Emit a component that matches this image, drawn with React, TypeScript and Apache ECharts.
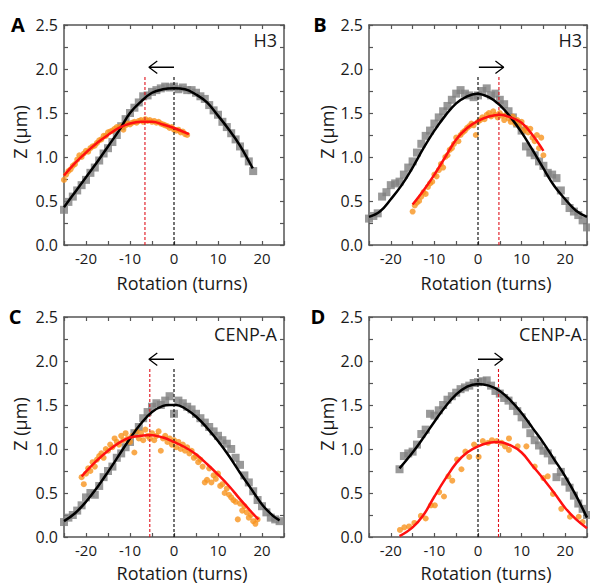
import React, { useEffect, useRef } from "react";
import * as echarts from "echarts";

const FONT = "'Open Sans', 'DejaVu Sans', sans-serif";
const X_MIN = -25;
const X_MAX = 25;
const X_STEP = 5;
const Y_MIN = 0;
const Y_MAX = 2.5;
const Y_STEP = 0.25;

const xTitle = "Rotation (turns)";
const yTitle = "Z (\u03bcm)";
const panelLetters = ["A", "B", "C", "D"];
const panelLabels = ["H3", "H3", "CENP-A", "CENP-A"];

// ---------- Panel A ----------
const aGrey = [
  [-25, 0.4], [-24, 0.49], [-23, 0.55], [-22, 0.62], [-21, 0.68], [-20, 0.74], [-19, 0.82], [-18, 0.88],
  [-17, 0.96], [-16, 1.04], [-15, 1.1], [-14, 1.17], [-13, 1.25], [-12, 1.35], [-11, 1.43], [-10, 1.5],
  [-9, 1.56], [-8, 1.62], [-7, 1.69], [-6, 1.7], [-5, 1.74], [-4, 1.76], [-3, 1.78], [-2, 1.8], [-1, 1.79],
  [0, 1.8], [1, 1.77], [2, 1.79], [3, 1.76], [4, 1.76], [5, 1.73], [6, 1.69], [7, 1.66], [8, 1.59],
  [9, 1.53], [10, 1.48], [11, 1.4], [12, 1.34], [13, 1.27], [14, 1.2], [15, 1.12], [16, 1.04], [17, 0.95], [18, 0.84],
];
const aGreyFit = [
  [-25, 0.43], [-22.5, 0.6], [-20, 0.77], [-17.5, 0.94], [-15, 1.12], [-12.5, 1.3], [-10, 1.5], [-7.5, 1.63],
  [-5, 1.73], [-2.5, 1.77], [0, 1.78], [2.5, 1.77], [5, 1.71], [7.5, 1.62], [10, 1.47], [12.5, 1.31], [15, 1.13], [17.9, 0.87],
];
const aOrange = [
  [-25, 0.74], [-24.5, 0.8], [-24, 0.84], [-23.5, 0.86], [-23, 0.9], [-22.5, 0.92], [-22, 0.97], [-21.5, 1.02],
  [-21, 1.0], [-20.5, 1.04], [-20, 1.07], [-19.5, 1.06], [-19, 1.1], [-18.5, 1.12], [-18, 1.13], [-17.5, 1.16],
  [-17, 1.19], [-16.5, 1.2], [-16, 1.24], [-15.5, 1.24], [-15, 1.28], [-14.5, 1.29], [-14, 1.3], [-13.5, 1.32],
  [-13, 1.34], [-12.5, 1.33], [-12, 1.35], [-11.5, 1.31], [-11, 1.36], [-10.5, 1.38], [-10, 1.37], [-9.5, 1.39],
  [-9, 1.4], [-8.5, 1.39], [-8, 1.41], [-7.5, 1.42], [-7, 1.4], [-6.5, 1.43], [-6, 1.41], [-5.5, 1.42],
  [-5, 1.4], [-4.5, 1.41], [-4, 1.39], [-3.5, 1.4], [-3, 1.38], [-2.5, 1.37], [-2, 1.36], [-1.5, 1.35],
  [-1, 1.33], [-0.5, 1.34], [0, 1.31], [0.5, 1.3], [1, 1.31], [1.5, 1.28], [2, 1.29], [2.5, 1.26], [3, 1.25],
];
const aOrangeFit = [
  [-25, 0.79], [-22.5, 0.93], [-20, 1.05], [-17.5, 1.16], [-15, 1.25], [-12.5, 1.33], [-10, 1.38], [-7.5, 1.4],
  [-5, 1.4], [-2.5, 1.37], [0, 1.33], [3.4, 1.26],
];
const aDash = [0, -6.6];
const aArrow = [0, -5.7];

// ---------- Panel B ----------
const bGrey = [
  [-25, 0.3], [-24, 0.33], [-23, 0.36], [-22, 0.55], [-21, 0.6], [-20, 0.68], [-19, 0.7], [-18, 0.72],
  [-17, 0.8], [-16, 0.88], [-15, 0.95], [-14, 1.05], [-13, 1.15], [-12, 1.24], [-11, 1.3], [-10, 1.38],
  [-9, 1.45], [-8, 1.52], [-7, 1.58], [-6, 1.65], [-5, 1.72], [-4, 1.76], [-3, 1.72], [-2, 1.7], [-1, 1.68],
  [0, 1.7], [1, 1.75], [2, 1.78], [3, 1.7], [4, 1.72], [5, 1.65], [6, 1.6], [7, 1.52], [8, 1.45], [9, 1.38],
  [10, 1.3], [11, 1.12], [12, 1.05], [13, 1.02], [14, 0.95], [15, 0.9], [16, 0.82], [17, 0.8], [18, 0.76],
  [19, 0.62], [20, 0.5], [21, 0.42], [22, 0.38], [23, 0.34], [24, 0.28], [25, 0.2],
];
const bGreyFit = [
  [-25, 0.32], [-22.5, 0.38], [-20, 0.52], [-17.5, 0.68], [-15, 0.88], [-12.5, 1.1], [-10, 1.3], [-7.5, 1.47],
  [-5, 1.61], [-2.5, 1.69], [-0.3, 1.72], [2.5, 1.68], [5, 1.59], [7.5, 1.45], [10, 1.28], [12.5, 1.08],
  [15, 0.87], [17.5, 0.67], [20, 0.52], [22.5, 0.39], [25, 0.32],
];
const bOrange = [
  [-15, 0.38], [-14.5, 0.45], [-14, 0.48], [-13.5, 0.5], [-13, 0.55], [-12.5, 0.6], [-12, 0.58], [-11.5, 0.66],
  [-11, 0.7], [-10.5, 0.72], [-10, 0.8], [-9.5, 0.78], [-9, 0.85], [-8.5, 0.92], [-8, 0.88], [-7.5, 1.0],
  [-7, 1.02], [-6.5, 1.08], [-6, 1.1], [-5.5, 1.15], [-5, 1.22], [-4.5, 1.18], [-4, 1.25], [-3.5, 1.28],
  [-3, 1.3], [-2.5, 1.33], [-2, 1.35], [-1.5, 1.38], [-1, 1.36], [-0.5, 1.25], [0, 1.4], [0.5, 1.42],
  [1, 1.45], [1.5, 1.43], [2, 1.48], [2.5, 1.5], [3, 1.46], [3.5, 1.52], [4, 1.48], [4.5, 1.45], [5, 1.5],
  [5.5, 1.47], [6, 1.42], [6.5, 1.48], [7, 1.44], [7.5, 1.4], [8, 1.46], [8.5, 1.38], [9, 1.42], [9.5, 1.35],
  [10, 1.4], [10.5, 1.3], [11, 1.33], [11.5, 1.28], [12, 1.32], [12.5, 1.22], [13, 1.18], [13.5, 1.25],
  [14, 1.1], [14.5, 1.22], [15, 1.02],
];
const bOrangeFit = [
  [-15, 0.46], [-12.5, 0.62], [-10, 0.8], [-7.5, 1.0], [-5, 1.2], [-2.5, 1.33], [0, 1.41], [2.5, 1.46],
  [5, 1.48], [7.5, 1.45], [10, 1.39], [12.5, 1.25], [15, 1.07],
];
const bDash = [0, 4.8];
const bArrow = [0.2, 5.9];

// ---------- Panel C ----------
const cGrey = [
  [-25, 0.17], [-24, 0.22], [-23, 0.25], [-22, 0.3], [-21, 0.36], [-20, 0.45], [-19, 0.5], [-18, 0.48],
  [-17, 0.58], [-16, 0.68], [-15, 0.75], [-14, 0.8], [-13, 0.9], [-12, 0.95], [-11, 1.02], [-10, 1.08],
  [-9, 1.18], [-8, 1.25], [-7, 1.35], [-6, 1.42], [-5, 1.48], [-4, 1.52], [-3, 1.5], [-2, 1.55], [-1, 1.6],
  [0, 1.4], [1, 1.55], [2, 1.52], [3, 1.48], [4, 1.45], [5, 1.4], [6, 1.35], [7, 1.3], [8, 1.25], [9, 1.2],
  [10, 1.15], [11, 1.1], [12, 1.06], [13, 1.0], [14, 0.9], [15, 0.82], [16, 0.7], [17, 0.62], [18, 0.52],
  [19, 0.42], [20, 0.35], [21, 0.28], [22, 0.22], [23, 0.2], [24, 0.18],
];
const cGreyFit = [
  [-25, 0.18], [-22.5, 0.27], [-20, 0.4], [-17.5, 0.56], [-15, 0.74], [-12.5, 0.93], [-10, 1.12], [-7.5, 1.29],
  [-5, 1.42], [-2.5, 1.49], [-1, 1.5], [0.5, 1.5], [2.5, 1.46], [5, 1.37], [7.5, 1.24], [10, 1.09],
  [12.5, 0.92], [15, 0.73], [17.5, 0.55], [20, 0.37], [22.5, 0.24], [24, 0.19],
];
const cOrange = [
  [-21, 0.68], [-20.5, 0.6], [-20, 0.72], [-19.5, 0.78], [-19, 0.75], [-18.5, 0.85], [-18, 0.8], [-17.5, 0.88],
  [-17, 0.92], [-16.5, 0.95], [-16, 0.9], [-15.5, 1.0], [-15, 0.98], [-14.5, 1.05], [-14, 1.02], [-13.5, 1.12],
  [-13, 1.08], [-12.5, 1.05], [-12, 1.15], [-11.5, 1.1], [-11, 1.18], [-10.5, 1.12], [-10, 1.08], [-9.5, 1.15],
  [-9, 0.96], [-8.5, 1.2], [-8, 1.12], [-7.5, 1.18], [-7, 1.1], [-6.5, 1.22], [-6, 1.15], [-5.5, 1.12],
  [-5, 1.18], [-4.5, 1.1], [-4, 1.15], [-3.5, 1.2], [-3, 0.98], [-2.5, 1.12], [-2, 1.15], [-1.5, 1.08],
  [-1, 1.12], [-0.5, 1.05], [0, 1.1], [0.5, 1.02], [1, 1.08], [1.5, 1.0], [2, 1.05], [2.5, 0.98], [3, 1.02],
  [3.5, 0.95], [4, 0.98], [4.5, 0.9], [5, 0.92], [5.5, 0.85], [6, 0.88], [6.5, 0.8], [7, 0.62], [7.5, 0.65],
  [8, 0.78], [8.5, 0.62], [9, 0.7], [9.5, 0.66], [10, 0.72], [10.5, 0.58], [11, 0.6], [11.5, 0.5], [12, 0.55],
  [12.5, 0.48], [13, 0.45], [13.5, 0.42], [14, 0.4], [14.5, 0.2], [15, 0.38], [15.5, 0.3], [16, 0.35],
  [16.5, 0.28], [17, 0.22], [17.5, 0.25], [18, 0.18], [18.5, 0.15], [19, 0.2],
];
const cOrangeFit = [
  [-21, 0.69], [-17.5, 0.87], [-15, 0.98], [-12.5, 1.07], [-10, 1.13], [-7.5, 1.15], [-5.5, 1.16], [-2.5, 1.13],
  [0, 1.08], [2.5, 1.02], [5, 0.94], [7.5, 0.83], [10, 0.71], [12.5, 0.58], [15, 0.43], [17.5, 0.29], [19.2, 0.2],
];
const cDash = [0, -5.5];
const cArrow = [0, -5.7];

// ---------- Panel D ----------
const dGrey = [
  [-18, 0.77], [-17, 0.92], [-16, 0.95], [-15, 0.97], [-14, 1.05], [-13, 1.17], [-12, 1.22], [-11, 1.4],
  [-10, 1.38], [-9, 1.44], [-8, 1.5], [-7, 1.56], [-6, 1.6], [-5, 1.64], [-4, 1.68], [-3, 1.7], [-2, 1.72],
  [-1, 1.75], [0, 1.76], [1, 1.77], [2, 1.78], [3, 1.72], [4, 1.66], [5, 1.63], [6, 1.58], [7, 1.55],
  [8, 1.49], [9, 1.43], [10, 1.36], [11, 1.28], [12, 1.18], [13, 1.1], [14, 1.04], [15, 0.98], [16, 0.95],
  [17, 0.87], [18, 0.68], [19, 0.74], [20, 0.63], [21, 0.56], [22, 0.47], [23, 0.38], [24, 0.32], [25, 0.25],
];
const dGreyFit = [
  [-18, 0.78], [-15, 0.96], [-12.5, 1.13], [-10, 1.31], [-7.5, 1.48], [-5, 1.62], [-2.5, 1.71], [0, 1.74],
  [2.5, 1.72], [5, 1.66], [7.5, 1.55], [10, 1.41], [12.5, 1.24], [15, 1.07], [17.5, 0.88], [20, 0.69],
  [22.5, 0.47], [25, 0.22],
];
const dOrange = [
  [-17.9, 0.08], [-16.9, 0.11], [-15.8, 0.12], [-14.6, 0.16], [-13.1, 0.24], [-12, 0.21], [-10.8, 0.36],
  [-9.9, 0.36], [-8.9, 0.51], [-7.8, 0.46], [-6.8, 0.69], [-5.9, 0.64], [-4.8, 0.88], [-3.8, 0.77],
  [-2.9, 0.97], [-2, 0.91], [-0.9, 1.05], [0.15, 0.91], [1.1, 1.09], [2.3, 1.07], [3.2, 1.1], [4.3, 1.09],
  [5.4, 1.07], [6.2, 1.03], [7.1, 1.12], [7.1, 0.99], [9.1, 1.03], [11.1, 1.03], [13, 0.8], [15, 0.67],
  [16, 0.69], [17.2, 0.49], [19.1, 0.32], [21.1, 0.23], [23.1, 0.23], [24, 0.17],
];
const dOrangeFit = [
  [-18, 0.01], [-15, 0.11], [-12.5, 0.25], [-10, 0.46], [-7.5, 0.66], [-5, 0.84], [-2.5, 0.96], [0, 1.03],
  [2.5, 1.07], [4.7, 1.08], [7.5, 1.04], [10, 0.96], [12.5, 0.81], [15, 0.66], [17.5, 0.5], [20, 0.33],
  [22.5, 0.2], [25, 0.1],
];
const dDash = [0, 4.7];
const dArrow = [0, 5.7];

const DASH_TOP = 1.92;
const ARROW_Y = 2.02;

const panels = [
  { grey: aGrey, greyFit: aGreyFit, orange: aOrange, orangeFit: aOrangeFit, dash: aDash, arrow: aArrow,
    left: 64, top: 25, letterX: 18, letterY: 24, zX: 20, zY: 132, rotX: 182, rotY: 283, labRight: 277, labY: 40 },
  { grey: bGrey, greyFit: bGreyFit, orange: bOrange, orangeFit: bOrangeFit, dash: bDash, arrow: bArrow,
    left: 369, top: 25, letterX: 320, letterY: 24, zX: 327, zY: 132, rotX: 486, rotY: 283, labRight: 582, labY: 40 },
  { grey: cGrey, greyFit: cGreyFit, orange: cOrange, orangeFit: cOrangeFit, dash: cDash, arrow: cArrow,
    left: 64, top: 317, letterX: 15, letterY: 316, zX: 20, zY: 424, rotX: 182, rotY: 573, labRight: 277, labY: 334 },
  { grey: dGrey, greyFit: dGreyFit, orange: dOrange, orangeFit: dOrangeFit, dash: dDash, arrow: dArrow,
    left: 369, top: 317, letterX: 318, letterY: 316, zX: 327, zY: 424, rotX: 486, rotY: 573, labRight: 582, labY: 334 },
];

const AXIS_COLOR = "#555";
const TEXT_COLOR = "#1a1a1a";
const GREY = "#808080";
const ORANGE = "#f7931e";
const RED = "#ff1010";

function xLabel(v: number) {
  return Math.abs(v % 10) < 1e-9 ? String(v) : "";
}
function yLabel(v: number) {
  const r = Math.round(v * 2);
  return Math.abs(v * 2 - r) < 1e-6 ? v.toFixed(1) : "";
}

function buildOption() {
  const grid: any[] = [];
  const xAxis: any[] = [];
  const yAxis: any[] = [];
  const series: any[] = [];
  const graphic: any[] = [];

  panels.forEach((p, i) => {
    grid.push({ left: p.left, top: p.top, width: 220, height: 220, containLabel: false });
    const axisLine = { show: true, onZero: false, lineStyle: { color: AXIS_COLOR, width: 1.5 } };
    const axisTick = { show: true, inside: true, length: 4, lineStyle: { color: AXIS_COLOR, width: 1.2 } };
    const xa = {
      type: "value", gridIndex: i, min: X_MIN, max: X_MAX, interval: X_STEP,
      axisLine, axisTick, splitLine: { show: false },
    };
    xAxis.push({
      ...xa, position: "bottom",
      axisLabel: { formatter: xLabel, fontSize: 15, fontFamily: FONT, color: TEXT_COLOR, margin: 5 },
    });
    xAxis.push({ ...xa, position: "top", axisLabel: { show: false } });
    const ya = {
      type: "value", gridIndex: i, min: Y_MIN, max: Y_MAX, interval: Y_STEP,
      axisLine, axisTick, splitLine: { show: false },
    };
    yAxis.push({
      ...ya, position: "left",
      axisLabel: { formatter: yLabel, fontSize: 16, fontFamily: FONT, color: TEXT_COLOR, margin: 6 },
    });
    yAxis.push({ ...ya, position: "right", axisLabel: { show: false } });

    const xi = i * 2;
    const yi = i * 2;
    series.push({
      type: "scatter", xAxisIndex: xi, yAxisIndex: yi, data: p.grey, symbol: "rect", symbolSize: 8,
      itemStyle: { color: GREY }, z: 2, silent: true,
    });
    series.push({
      type: "scatter", xAxisIndex: xi, yAxisIndex: yi, data: p.orange, symbol: "circle", symbolSize: 6,
      itemStyle: { color: ORANGE }, z: 2, silent: true,
    });
    series.push({
      type: "line", xAxisIndex: xi, yAxisIndex: yi, data: [[p.dash[0], 0], [p.dash[0], DASH_TOP]],
      symbol: "none", lineStyle: { color: "#000", width: 1.1, type: [3, 2] }, z: 3, silent: true,
    });
    series.push({
      type: "line", xAxisIndex: xi, yAxisIndex: yi, data: [[p.dash[1], 0], [p.dash[1], DASH_TOP]],
      symbol: "none", lineStyle: { color: "#e0101a", width: 1.1, type: [3, 2] }, z: 3, silent: true,
    });
    series.push({
      type: "line", xAxisIndex: xi, yAxisIndex: yi, data: p.greyFit, smooth: 0.4, symbol: "none",
      lineStyle: { color: "#000", width: 2.5 }, z: 4, silent: true,
    });
    series.push({
      type: "line", xAxisIndex: xi, yAxisIndex: yi, data: p.orangeFit, smooth: 0.4, symbol: "none",
      lineStyle: { color: RED, width: 2.5 }, z: 5, silent: true,
    });
    const dir = Math.sign(p.arrow[1] - p.arrow[0]);
    const tip = p.arrow[1];
    const back = tip - dir * 1.9;
    series.push({
      type: "line", xAxisIndex: xi, yAxisIndex: yi,
      data: [[p.arrow[0], ARROW_Y], [tip, ARROW_Y], [back, ARROW_Y + 0.07], [tip, ARROW_Y], [back, ARROW_Y - 0.07]],
      symbol: "none", lineStyle: { color: "#000", width: 1.3 }, z: 5, silent: true,
    });

    graphic.push({
      type: "text", x: p.letterX, y: p.letterY,
      style: { text: panelLetters[i], fontSize: 20, fontWeight: "bold", fontFamily: FONT, fill: "#000",
        textAlign: "center", textVerticalAlign: "middle" },
    });
    graphic.push({
      type: "text", x: p.labRight, y: p.labY,
      style: { text: panelLabels[i], fontSize: 18, fontFamily: FONT, fill: TEXT_COLOR,
        textAlign: "right", textVerticalAlign: "middle" },
    });
    graphic.push({
      type: "text", x: p.rotX, y: p.rotY,
      style: { text: xTitle, fontSize: 18, fontFamily: FONT, fill: TEXT_COLOR,
        textAlign: "center", textVerticalAlign: "middle" },
    });
    graphic.push({
      type: "text", x: p.zX, y: p.zY, rotation: Math.PI / 2,
      style: { text: yTitle, fontSize: 18, fontFamily: FONT, fill: TEXT_COLOR,
        textAlign: "center", textVerticalAlign: "middle" },
    });
  });

  return { animation: false, backgroundColor: "#fff", grid, xAxis, yAxis, series, graphic };
}

export default function App() {
  const ref = useRef<HTMLDivElement>(null);
  useEffect(() => {
    if (!ref.current) return;
    const chart = echarts.init(ref.current, undefined, { renderer: "svg" });
    chart.setOption(buildOption() as any);
    return () => chart.dispose();
  }, []);
  return (
    <div
      ref={ref}
      style={{ position: "absolute", left: 0, top: 0, width: 590, height: 585, background: "#fff" }}
    />
  );
}
